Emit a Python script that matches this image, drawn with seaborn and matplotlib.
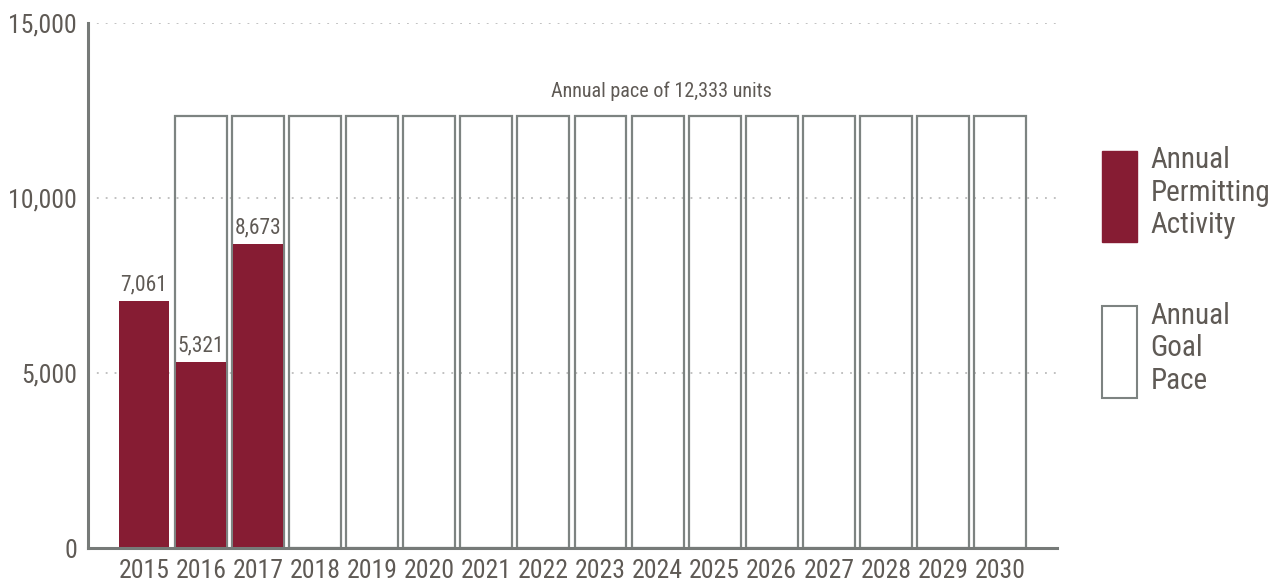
"""
Annual permitting activity versus the annual goal pace, 2015-2030.
"""
import matplotlib
matplotlib.use("Agg")
import matplotlib.pyplot as plt
from matplotlib import font_manager
from matplotlib.patches import Patch
from matplotlib.ticker import FuncFormatter
import pandas as pd
import seaborn as sns

# chart data
years = [str(y) for y in range(2015, 2031)]
goal_years = [str(y) for y in range(2016, 2031)]
goal_pace = [12333] * len(goal_years)
actual_years = ["2015", "2016", "2017"]
actual_units = [7061, 5321, 8673]
pace_note = "Annual pace of 12,333 units"
legend_labels = ["Annual\nPermitting\nActivity", "Annual\nGoal\nPace"]

RED = "#861c33"
EDGE = "#7d8381"
TEXT = "#5f5a55"
SPINE = "#767a78"


def pick_font():
    """
    Picks a narrow font if one is installed, else DejaVu Sans.
    """
    fonts = font_manager.fontManager.ttflist
    names = {f.name for f in fonts}
    for name in ["Roboto Condensed", "Liberation Sans Narrow",
                 "Open Sans Condensed", "DejaVu Sans Condensed"]:
        if name in names:
            return [name, "DejaVu Sans"], "normal"
    for f in fonts:
        if f.name == "DejaVu Sans" and "ondensed" in str(f.stretch):
            return ["DejaVu Sans"], "condensed"
    return ["DejaVu Sans"], "normal"


def main():
    sns.set_style("white")
    family, stretch = pick_font()
    plt.rcParams["font.family"] = family
    plt.rcParams["font.stretch"] = stretch

    goal_df = pd.DataFrame({"year": goal_years, "units": goal_pace})
    actual_df = pd.DataFrame({"year": actual_years, "units": actual_units})

    fig = plt.figure(figsize=(12.78, 5.86), dpi=100)
    ax = fig.add_axes([0.0689, 0.0648, 0.7582, 0.896])

    # goal outlines first, actual bars over them
    sns.barplot(data=goal_df, x="year", y="units", order=years, ax=ax,
                fill=False, edgecolor=EDGE, linewidth=1.6, width=0.91,
                zorder=2)
    sns.barplot(data=actual_df, x="year", y="units", order=years, ax=ax,
                color=RED, linewidth=0, width=0.88, saturation=1, zorder=3)

    ax.bar_label(ax.containers[1], labels=[f"{v:,}" for v in actual_units],
                 padding=4, fontsize=15.5, color=TEXT)
    ax.text(9.07, 13060, pace_note, ha="center", va="center",
            fontsize=14.5, color=TEXT)

    ax.set_ylim(0, 15000)
    ax.set_xlim(-0.98, 16.0)
    ax.set_yticks([0, 5000, 10000, 15000])
    ax.yaxis.set_major_formatter(FuncFormatter(lambda v, p: f"{v:,.0f}"))
    ax.set_xlabel("")
    ax.set_ylabel("")
    ax.tick_params(axis="both", length=0, labelsize=18.5, labelcolor=TEXT)
    ax.tick_params(axis="y", pad=8)
    ax.tick_params(axis="x", pad=8)

    ax.grid(axis="y", linestyle=(0, (1.2, 4.6)), color="#b0b0b0",
            linewidth=1.1)
    ax.set_axisbelow(True)
    for side in ["top", "right"]:
        ax.spines[side].set_visible(False)
    for side in ["left", "bottom"]:
        ax.spines[side].set_color(SPINE)
        ax.spines[side].set_linewidth(2.2)
        ax.spines[side].set_zorder(4)

    handles = [Patch(facecolor=RED, edgecolor=RED),
               Patch(facecolor="white", edgecolor=EDGE, linewidth=1.5)]
    leg = fig.legend(handles, legend_labels, loc="upper left",
                     bbox_to_anchor=(0.862, 0.75), frameon=False,
                     fontsize=21, handlelength=1.2, handleheight=4.45,
                     handletextpad=0.48, labelspacing=2.05,
                     borderpad=0, borderaxespad=0)
    for t in leg.get_texts():
        t.set_color(TEXT)
        t.set_linespacing(1.2)

    fig.savefig("out.png", dpi=100, facecolor="white")
    plt.close(fig)


if __name__ == "__main__":
    main()
